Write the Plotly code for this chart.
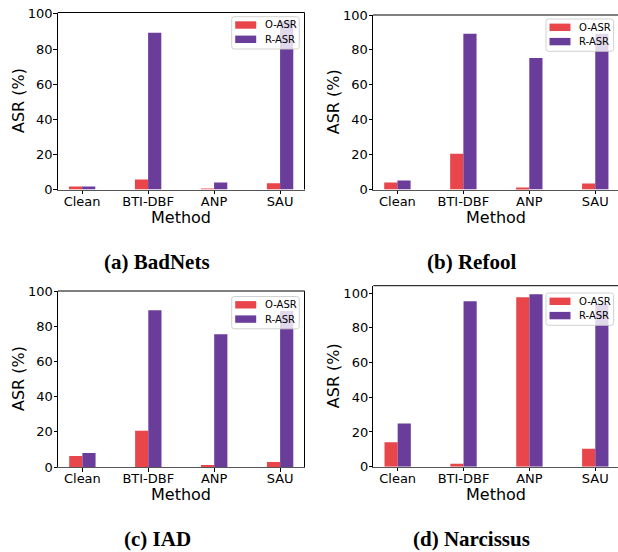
import plotly.graph_objects as go

methods = ["Clean", "BTI-DBF", "ANP", "SAU"]
series_names = ["O-ASR", "R-ASR"]
panel_titles = ["(a) BadNets", "(b) Refool", "(c) IAD", "(d) Narcissus"]

badnets_o = [1.7, 5.7, 0.5, 3.6]
badnets_r = [1.7, 89.2, 4.0, 96.0]
refool_o = [4.0, 20.5, 1.1, 3.4]
refool_r = [5.1, 89.2, 75.3, 89.2]
iad_o = [6.3, 20.6, 0.6, 2.9]
iad_r = [8.0, 89.1, 75.4, 88.6]
narc_o = [14.1, 1.7, 97.7, 10.4]
narc_r = [24.9, 95.4, 99.4, 93.6]

y_ticks = [0, 20, 40, 60, 80, 100]

W, H = 618, 552
RED = "#E8464B"
PURPLE = "#6A3D9A"
COLORS = [RED, PURPLE]
SANS = "DejaVu Sans"
SERIF = "Liberation Serif"


def fx(px):
    return px / W


def fy(py):
    return 1 - py / H


# panel geometry in pixels
panels = [
    dict(o=badnets_o, r=badnets_r, l=57.7, rt=304.5, t=12.5, b=189.5, ymax=100.8, xr=3.37,
         right_spine=True, leg=(231.7, 16.7)),
    dict(o=refool_o, r=refool_r, l=373.0, rt=618.0, t=15.0, b=189.5, ymax=100.0, xr=3.345,
         right_spine=False, leg=(546.0, 19.0)),
    dict(o=iad_o, r=iad_r, l=58.0, rt=304.5, t=291.0, b=467.0, ymax=100.0, xr=3.37,
         right_spine=True, leg=(231.7, 296.5)),
    dict(o=narc_o, r=narc_r, l=373.3, rt=618.0, t=285.7, b=466.7, ymax=104.3, xr=3.345,
         right_spine=False, leg=(546.0, 293.0)),
]

fig = go.Figure()
layout = dict(
    width=W, height=H,
    margin=dict(l=0, r=0, t=0, b=0, autoexpand=False),
    paper_bgcolor="white", plot_bgcolor="white",
    showlegend=False,
    font=dict(family=SANS, color="black"),
)
shapes = []
annotations = []
xpos = list(range(len(methods)))


def rounded_box(x0, y0, x1, y1, r):
    # pixel coords (top-left origin) -> paper path
    def P(x, y):
        return f"{fx(x):.5f},{fy(y):.5f}"
    return (f"M {P(x0 + r, y0)} L {P(x1 - r, y0)} Q {P(x1, y0)} {P(x1, y0 + r)} "
            f"L {P(x1, y1 - r)} Q {P(x1, y1)} {P(x1 - r, y1)} "
            f"L {P(x0 + r, y1)} Q {P(x0, y1)} {P(x0, y1 - r)} "
            f"L {P(x0, y0 + r)} Q {P(x0, y0)} {P(x0 + r, y0)} Z")


for i, p in enumerate(panels):
    k = "" if i == 0 else str(i + 1)
    xa, ya = "x" + k, "y" + k
    for name, vals, col, off in [(series_names[0], p["o"], RED, -0.2), (series_names[1], p["r"], PURPLE, 0.0)]:
        fig.add_trace(go.Bar(
            x=xpos, y=vals, name=name, width=0.2, offset=off,
            marker=dict(color=col, line=dict(width=0)),
            xaxis=xa, yaxis=ya,
        ))
    layout["xaxis" + k] = dict(
        domain=[fx(p["l"]), fx(p["rt"])], anchor=ya,
        range=[-0.37, p["xr"]], tickmode="array", tickvals=xpos, ticktext=methods,
        showgrid=False, zeroline=False, showline=True, linecolor="#555555", linewidth=1.3,
        ticks="outside", ticklen=3.5, tickwidth=0.8, tickcolor="black",
        ticklabelstandoff=-4,
        tickfont=dict(family=SANS, size=13, color="black"), fixedrange=True,
    )
    layout["yaxis" + k] = dict(
        domain=[fy(p["b"]), fy(p["t"])], anchor=xa,
        range=[0, p["ymax"]], tickmode="array", tickvals=y_ticks,
        showgrid=False, zeroline=False, showline=True, linecolor="black", linewidth=1,
        ticks="outside", ticklen=3.5, tickwidth=0.8, tickcolor="black",
        ticklabelstandoff=-2,
        tickfont=dict(family=SANS, size=13, color="black"), fixedrange=True,
    )
    # top spine
    shapes.append(dict(type="line", xref="paper", yref="paper",
                       x0=fx(p["l"]), x1=fx(p["rt"]), y0=fy(p["t"]), y1=fy(p["t"]),
                       line=dict(color="black", width=1)))
    if p["right_spine"]:
        shapes.append(dict(type="line", xref="paper", yref="paper",
                           x0=fx(p["rt"]), x1=fx(p["rt"]), y0=fy(p["t"]), y1=fy(p["b"]),
                           line=dict(color="black", width=1)))
    # legend (drawn on top of the bars)
    lx, ly = p["leg"]
    shapes.append(dict(type="path", xref="paper", yref="paper",
                       path=rounded_box(lx, ly, lx + 67.6, ly + 32.3, 2.5),
                       fillcolor="rgba(255,255,255,0.8)",
                       line=dict(color="rgba(204,204,204,0.9)", width=1), layer="above"))
    for j, name in enumerate(series_names):
        cy = ly + 8.3 + j * 14.3
        shapes.append(dict(type="rect", xref="paper", yref="paper",
                           x0=fx(lx + 3.5), x1=fx(lx + 24.5), y0=fy(cy - 3.7), y1=fy(cy + 3.7),
                           fillcolor=COLORS[j], line=dict(width=0), layer="above"))
        annotations.append(dict(text=name, xref="paper", yref="paper",
                                x=fx(lx + 31.3), y=fy(cy), xanchor="left", yanchor="middle",
                                showarrow=False, font=dict(family=SANS, size=10, color="black")))
    left_text_x = 18 if i % 2 == 0 else 333
    center_x = (p["l"] + (p["rt"] if p["right_spine"] else 619.6)) / 2
    annotations.append(dict(text="ASR (%)", textangle=-90, xref="paper", yref="paper",
                            x=fx(left_text_x), y=fy((p["t"] + p["b"]) / 2),
                            xanchor="center", yanchor="middle", showarrow=False,
                            font=dict(family=SANS, size=16, color="black")))
    annotations.append(dict(text="Method", xref="paper", yref="paper",
                            x=fx(center_x), y=fy(p["b"] + 27.5),
                            xanchor="center", yanchor="middle", showarrow=False,
                            font=dict(family=SANS, size=16, color="black")))
    cap_y = 262 if i < 2 else 539
    cap_x = 157 if i % 2 == 0 else 471
    annotations.append(dict(text="<b>" + panel_titles[i] + "</b>", xref="paper", yref="paper",
                            x=fx(cap_x), y=fy(cap_y), xanchor="center", yanchor="middle",
                            showarrow=False,
                            font=dict(family=SERIF, size=21, color="black")))

layout["shapes"] = shapes
layout["annotations"] = annotations
fig.update_layout(**layout)
fig.write_html("out.html", config={"displayModeBar": False},
               post_script="document.body.style.margin='0px';")
